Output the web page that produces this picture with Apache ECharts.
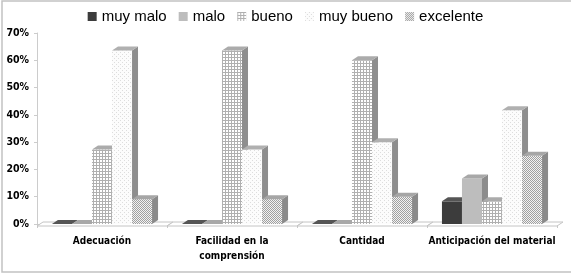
<!DOCTYPE html>
<html>
<head>
<meta charset="utf-8">
<script src="https://cdn.jsdelivr.net/npm/echarts@6/dist/echarts.min.js"></script>
<style>
  html, body { margin: 0; padding: 0; background: #fff; }
  #chart { width: 571px; height: 278px; }
</style>
</head>
<body>
<div id="chart"></div>
<script>
// categorias y series (porcentajes)
const categories = ['Adecuación', 'Facilidad en la\ncomprensión', 'Cantidad', 'Anticipación del material'];
const seriesNames = ['muy malo', 'malo', 'bueno', 'muy bueno', 'excelente'];
const muyMalo = [0, 0, 0, 8.3];
const malo = [0, 0, 0, 16.7];
const bueno = [27.3, 63.6, 60, 8.3];
const muyBueno = [63.6, 27.3, 30, 41.7];
const excelente = [9.1, 9.1, 10, 25];
const yTicks = [0, 10, 20, 30, 40, 50, 60, 70];

const values = [muyMalo, malo, bueno, muyBueno, excelente];

const narrowFont = '"Liberation Sans Narrow", "DejaVu Sans Condensed", "Roboto Condensed", Roboto, sans-serif';

// patrones de relleno tipo Excel
function makePattern(size, bg, dots) {
    const c = document.createElement('canvas');
    c.width = size; c.height = size;
    const ctx = c.getContext('2d');
    ctx.fillStyle = bg;
    ctx.fillRect(0, 0, size, size);
    dots.forEach(d => {
        ctx.fillStyle = d[4];
        ctx.fillRect(d[0], d[1], d[2], d[3]);
    });
    return { image: c, repeat: 'repeat' };
}

const gridPat = makePattern(3, '#ffffff', [[0, 0, 3, 1, '#b0b0b0'], [0, 0, 1, 3, '#b0b0b0']]);
const dotPat = makePattern(4, '#fcfcfc', [[0, 0, 1, 1, '#dddddd'], [2, 2, 1, 1, '#dddddd']]);
const checkPat = makePattern(2, '#f2f2f2', [[0, 0, 1, 1, '#a0a0a0'], [1, 1, 1, 1, '#a0a0a0']]);

const fronts = ['#3c3c3c', '#bdbdbd', gridPat, dotPat, checkPat];
const sides = ['#262626', '#8c8c8c', '#8e8e8e', '#8e8e8e', '#8a8a8a'];
const tops = ['#555555', '#a8a8a8', '#ababab', '#b0b0b0', '#a6a6a6'];

const DX = 6, DY = -4;

function barRenderer(s) {
    return function (params, api) {
        const i = api.value(0), v = api.value(1);
        const top = api.coord([i, v]);
        const base = api.coord([i, 0]);
        const catW = api.size([1, 0])[0];
        const bw = catW * 0.154;
        const x0 = top[0] + (s - 2.5) * bw;
        const x1 = x0 + bw;
        return {
            type: 'group',
            children: [
                { type: 'rect', shape: { x: x0, y: top[1], width: bw, height: base[1] - top[1] },
                  style: { fill: fronts[s], stroke: null } },
                { type: 'polygon', shape: { points: [[x1, top[1]], [x1 + DX, top[1] + DY], [x1 + DX, base[1] + DY], [x1, base[1]]] },
                  style: { fill: sides[s] } },
                { type: 'polygon', shape: { points: [[x0, top[1]], [x0 + DX, top[1] + DY], [x1 + DX, top[1] + DY], [x1, top[1]]] },
                  style: { fill: tops[s] } }
            ]
        };
    };
}

// piso 3D
function floorRenderer(params, api) {
    const i = api.value(0);
    const c = api.coord([i, 0]);
    const w = api.size([1, 0])[0];
    const l = c[0] - w / 2, r = c[0] + w / 2, y = c[1];
    return {
        type: 'polygon',
        shape: { points: [[l, y + 2], [l + DX, y + 2 + DY], [r + DX, y + 2 + DY], [r, y + 2]] },
        style: { fill: '#ffffff', stroke: '#c4c4c4', lineWidth: 1 }
    };
}

const series = [{
    name: 'floor',
    type: 'custom',
    renderItem: floorRenderer,
    data: categories.map((c, i) => [i, 0]),
    silent: true,
    z: 1
}];

seriesNames.forEach((name, s) => {
    series.push({
        name: name,
        type: 'custom',
        renderItem: barRenderer(s),
        itemStyle: { color: fronts[s] },
        data: values[s].map((v, i) => [i, v]),
        encode: { x: 0, y: 1 },
        z: 2
    });
});

const chart = echarts.init(document.getElementById('chart'), null, { renderer: 'canvas' });
chart.setOption({
    animation: false,
    graphic: [{
        type: 'rect',
        shape: { x: 2, y: 1, width: 600, height: 271 },
        style: { fill: null, stroke: '#c2c2c2', lineWidth: 1.5 },
        silent: true
    }],
    legend: {
        top: 4,
        left: 'center',
        itemWidth: 9,
        itemHeight: 9,
        itemGap: 12,
        icon: 'rect',
        textStyle: { fontFamily: '"Liberation Sans", sans-serif', fontSize: 15, color: '#000' },
        data: seriesNames.map((n, s) => ({ name: n, itemStyle: { color: fronts[s], borderWidth: 0 } }))
    },
    grid: { left: 37, right: 14, top: 33, bottom: 54 },
    xAxis: {
        type: 'category',
        data: categories,
        axisLine: { show: true, lineStyle: { color: '#c8c8c8' } },
        axisTick: { show: true, length: 4, lineStyle: { color: '#c8c8c8' } },
        axisLabel: {
            interval: 0, margin: 10, color: '#000', fontWeight: 'bold',
            fontFamily: narrowFont, fontSize: 10, lineHeight: 15
        },
        splitLine: { show: false }
    },
    yAxis: {
        type: 'value',
        min: yTicks[0],
        max: yTicks[yTicks.length - 1],
        interval: 10,
        axisLine: { show: true, lineStyle: { color: '#cccccc' } },
        axisTick: { show: true, length: 3, lineStyle: { color: '#cccccc' } },
        axisLabel: {
            formatter: '{value}%', margin: 8, color: '#000', fontWeight: 'bold',
            fontFamily: narrowFont, fontSize: 10.5
        },
        splitLine: { show: false }
    },
    series: series
});
</script>
</body>
</html>
